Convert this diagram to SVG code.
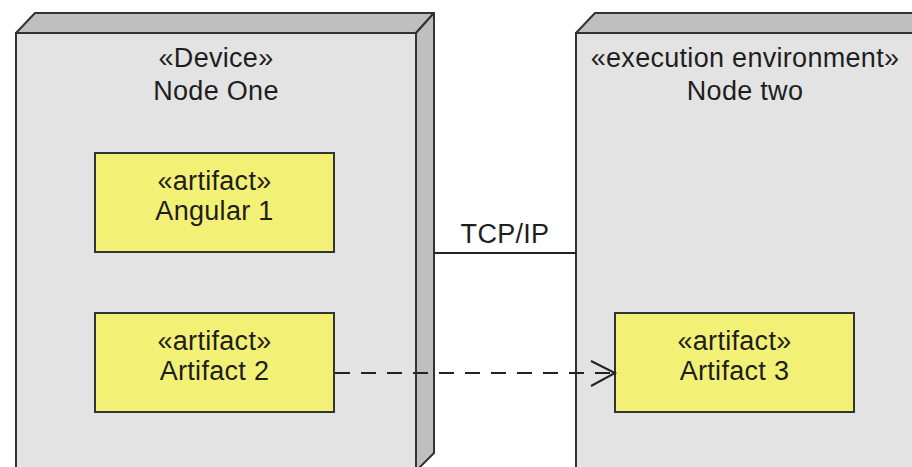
<svg xmlns="http://www.w3.org/2000/svg" width="912" height="467" viewBox="0 0 912 467">
<style>
.front{fill:#e3e3e3;stroke:#333;stroke-width:2}
.shade{fill:#bfbfbf;stroke:#333;stroke-width:2;stroke-linejoin:round}
.art{fill:#f2f175;stroke:#333;stroke-width:2}
text{font-family:"Liberation Sans",Arial,sans-serif;font-size:27px;letter-spacing:0.3px;fill:#1e1e1e;text-anchor:middle}
.conn{stroke:#222;stroke-width:2;fill:none}
</style>
<rect width="912" height="467" fill="#fff"/>
<g id="node-one">
<polygon class="shade" points="16,33 35,13 434,13 416,33"/>
<polygon class="shade" points="416,33 434,13 434,453 416,471"/>
<rect class="front" x="16" y="33" width="400" height="440"/>
<text x="216" y="67">«Device»</text>
<text x="216" y="100">Node One</text>
</g>
<g id="node-two">
<polygon class="shade" points="576,33 595,13 940,13 921,33"/>
<rect class="front" x="576" y="33" width="345" height="440"/>
<text x="745" y="67">«execution environment»</text>
<text x="745" y="100">Node two</text>
</g>
<g id="angular-1">
<rect class="art" x="95" y="153" width="239" height="99"/>
<text x="214.5" y="190">«artifact»</text>
<text x="214.5" y="220">Angular 1</text>
</g>
<g id="artifact-2">
<rect class="art" x="95" y="313" width="239" height="99"/>
<text x="214.5" y="350">«artifact»</text>
<text x="214.5" y="380">Artifact 2</text>
</g>
<g id="artifact-3">
<rect class="art" x="615" y="313" width="239" height="99"/>
<text x="734.5" y="350">«artifact»</text>
<text x="734.5" y="380">Artifact 3</text>
</g>
<g id="connectors">
<line class="conn" x1="434" y1="253" x2="576" y2="253"/>
<text x="505" y="243">TCP/IP</text>
<line class="conn" x1="335" y1="373" x2="614" y2="373" stroke-dasharray="15 11"/>
<polyline class="conn" points="591,361 615,373 591,386"/>
</g>
</svg>
